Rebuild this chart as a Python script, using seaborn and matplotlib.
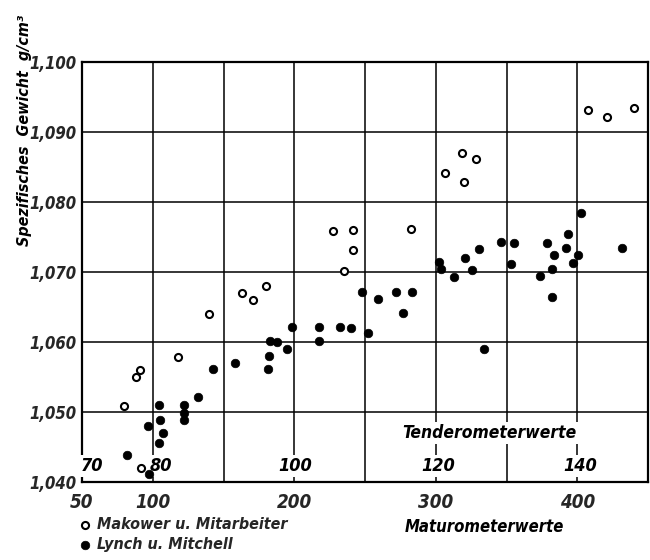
import matplotlib
matplotlib.use('Agg')
import matplotlib.pyplot as plt
import seaborn as sns
import pandas as pd
from matplotlib.ticker import FuncFormatter

# ---- data (Maturometerwerte vs. spezifisches Gewicht) ----
makower_x = [79.5, 88.2, 91.3, 91.5, 117.9, 139.5, 163.0, 170.6, 180.2, 227.5,
             241.6, 241.8, 235.0, 282.3, 306.6, 318.3, 328.4, 320.0, 407.9, 421.3, 439.9]
makower_y = [1.0509, 1.0550, 1.0560, 1.0420, 1.0578, 1.0640, 1.0670, 1.0660, 1.0680, 1.0759,
             1.0760, 1.0731, 1.0702, 1.0762, 1.0841, 1.0870, 1.0862, 1.0829, 1.0932, 1.0922, 1.0934]

lynch_x = [81.9, 97.4, 96.7, 104.2, 104.9, 107.3, 104.4, 122.4, 122.4, 122.4,
           132.0, 142.8, 158.1, 181.7, 182.1, 183.1, 187.7, 195.1, 198.1, 217.4,
           217.4, 232.5, 240.4, 248.0, 252.4, 259.5, 271.7, 283.3, 277.1, 302.0,
           303.5, 312.6, 320.4, 325.6, 330.5, 333.8, 346.1, 355.3, 353.4, 373.6,
           378.3, 382.1, 382.1, 383.9, 391.7, 393.8, 397.1, 400.4, 403.0, 431.9]
lynch_y = [1.0439, 1.0411, 1.0480, 1.0510, 1.0489, 1.0470, 1.0456, 1.0510, 1.0499, 1.0488,
           1.0521, 1.0561, 1.0570, 1.0562, 1.0580, 1.0602, 1.0600, 1.0590, 1.0621, 1.0621,
           1.0602, 1.0621, 1.0620, 1.0671, 1.0613, 1.0662, 1.0672, 1.0672, 1.0641, 1.0714,
           1.0704, 1.0693, 1.0720, 1.0703, 1.0733, 1.0590, 1.0743, 1.0742, 1.0711, 1.0694,
           1.0742, 1.0704, 1.0664, 1.0724, 1.0735, 1.0754, 1.0713, 1.0724, 1.0785, 1.0734]

series_names = ['Makower u. Mitarbeiter', 'Lynch u. Mitchell']

matur_ticks = [50, 100, 200, 300, 400]
matur_minor = [150, 250, 350]
y_ticks = [1.040, 1.050, 1.060, 1.070, 1.080, 1.090, 1.100]

# Tenderometer scale labels and the Maturometer value they sit at
tender_labels = ['70', '80', '100', '120', '140']
tender_at_matur = [57, 106, 201, 302, 402]

df = pd.concat([
    pd.DataFrame({'x': makower_x, 'y': makower_y, 'Quelle': series_names[0]}),
    pd.DataFrame({'x': lynch_x, 'y': lynch_y, 'Quelle': series_names[1]}),
])

sns.set_theme(style='white')
FONT = ['DejaVu Sans', 'Liberation Sans']
plt.rcParams['font.family'] = FONT
plt.rcParams['font.style'] = 'italic'
plt.rcParams['font.weight'] = 'bold'
plt.rcParams['font.stretch'] = 'condensed'

TXT = dict(fontstyle='italic', fontweight='bold', fontstretch='condensed', color='black')

fig = plt.figure(figsize=(6.5, 5.6), dpi=100)
ax = fig.add_axes([82 / 650, 78 / 560, 566 / 650, 420 / 560])

sns.scatterplot(data=df[df.Quelle == series_names[0]], x='x', y='y', ax=ax,
                marker='o', s=26, facecolor='white', edgecolor='black',
                linewidth=1.5, label=series_names[0], zorder=5)
sns.scatterplot(data=df[df.Quelle == series_names[1]], x='x', y='y', ax=ax,
                marker='o', s=38, color='black', edgecolor='black',
                linewidth=0.5, label=series_names[1], zorder=5)

ax.set_xlim(50, 450)
ax.set_ylim(1.040, 1.100)
ax.set_xticks(matur_ticks)
ax.set_xticks(matur_minor, minor=True)
ax.set_yticks(y_ticks)
ax.yaxis.set_major_formatter(FuncFormatter(lambda v, p: f"{v:.3f}".replace('.', ',')))
ax.grid(True, which='both', color='black', linewidth=1.1)
ax.set_axisbelow(True)
for s in ax.spines.values():
    s.set_color('black')
    s.set_linewidth(1.6)
ax.tick_params(axis='both', which='both', length=0)
ax.tick_params(axis='x', pad=8, labelsize=13.5)
ax.tick_params(axis='y', pad=4, labelsize=12)
for lab in ax.get_xticklabels() + ax.get_yticklabels():
    lab.set_fontstyle('italic')
    lab.set_fontweight('bold')
    lab.set_fontstretch('condensed')
ax.set_xlabel('')
ax.set_ylabel('')

# Tenderometer labels inside the plot
tkw = dict(fontsize=13, ha='center', va='center', zorder=4,
           bbox=dict(facecolor='white', edgecolor='none', pad=1.5), **TXT)
for lab, xm in zip(tender_labels, tender_at_matur):
    ax.text(xm, 1.0423, lab, **tkw)
ax.text(338, 1.0470, 'Tenderometerwerte', **{**tkw, 'fontsize': 12.5})

# axis titles
fig.text(25 / 650, 1 - 130 / 560, 'Spezifisches  Gewicht  g/cm³', rotation=90,
         ha='center', va='center', fontsize=11.5, **TXT)
fig.text(484 / 650, 1 - 527 / 560, 'Maturometerwerte', ha='center', va='center',
         fontsize=12, **TXT)

leg = ax.legend(loc='upper left', bbox_to_anchor=(77 / 650, 1 - 517 / 560),
                bbox_transform=fig.transFigure, frameon=False, handletextpad=0.25,
                labelspacing=0.3, handlelength=1.0, borderaxespad=0, borderpad=0,
                prop=dict(family=FONT, size=11.5, style='italic', weight='bold',
                          stretch='condensed'))

fig.savefig('out.png', dpi=100)
